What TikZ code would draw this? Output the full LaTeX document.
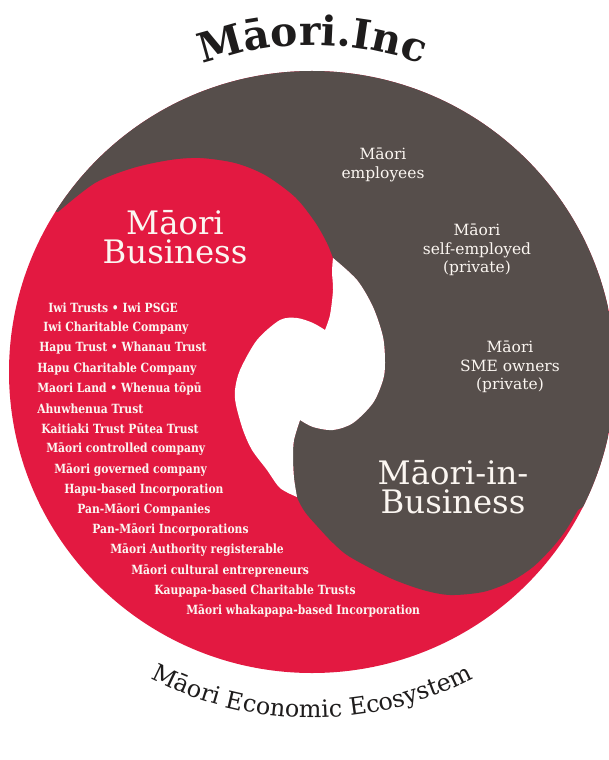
\documentclass[tikz,border=0pt]{standalone}
\usepackage{fontspec}
\setmainfont{DejaVu Serif}
\newfontfamily\slabcond{DejaVu Serif}[FakeStretch=0.85]
\usepackage{xcolor}
\usepackage{tikz}
\usetikzlibrary{decorations.text}
\definecolor{mred}{HTML}{E31941}
\definecolor{mgrey}{HTML}{564E4B}
\definecolor{mcream}{HTML}{FBF6F1}
\definecolor{mink}{HTML}{1E1C1C}
\tikzstyle{biglabel} = [text=mcream, align=center, font=\fontsize{23}{21}\selectfont]
\tikzstyle{smalllabel} = [text=mcream, align=center, font=\fontsize{11}{13}\selectfont]
\tikzstyle{listitem} = [text=mcream, anchor=west, inner sep=0pt, font=\slabcond\bfseries\fontsize{9}{10}\selectfont]

\begin{document}
\begin{tikzpicture}[x=0.025cm, y=0.025cm]
    % frame
    \useasboundingbox (0,0) rectangle (609,-760);
    \fill[white] (0,0) rectangle (609,-760);
    \clip (0,0) rectangle (609,-760);
    % disc
    \begin{scope}
        \fill[mred] (312,-372) ellipse [x radius=303, y radius=301];
        \clip (312,-372) ellipse [x radius=303, y radius=301];
        % dark side
        \fill[mgrey] plot[smooth] coordinates {(58,-212) (95,-183) (133,-168) (170,-160) (200,-158)
                (235,-163) (265,-175) (295,-197) (315,-222) (327,-243) (333,-258)}
            -- plot[smooth] coordinates {(333,-258) (357,-280) (373,-307) (383,-337) (385,-363)
                (383,-380) (373,-403) (353,-423) (333,-430) (313,-427) (300,-420)}
            -- plot[smooth] coordinates {(300,-420) (294,-440) (293,-457) (294,-478) (297,-497)
                (305,-512) (317,-526) (333,-543) (350,-557) (390,-578) (423,-590) (450,-595)
                (483,-592) (510,-582) (533,-567) (552,-548) (566,-530) (578,-510)}
            -- (640,-470) -- (640,10) -- (-10,10) -- (-10,-200) -- cycle;
        % hole
        \fill[white] plot[smooth] coordinates {(333,-258) (357,-280) (373,-307) (383,-337) (385,-363)
                (383,-380) (373,-403) (353,-423) (333,-430) (313,-427) (300,-420)}
            -- plot[smooth] coordinates {(300,-420) (294,-440) (293,-457) (294,-478) (297,-497)}
            -- plot[smooth] coordinates {(297,-497) (280,-488) (267,-470) (252,-450) (243,-430)
                (236,-405) (235,-390) (240,-370) (257,-340) (280,-320) (297,-318) (313,-323) (325,-330)}
            -- plot[smooth] coordinates {(325,-330) (330,-315) (333,-290) (332,-272) (333,-258)}
            -- cycle;
    \end{scope}
    % curved titles
    \path[decorate, decoration={text along path, text align=center, text color=mink,
        text={|\bfseries\fontsize{29}{29}\selectfont|Māori.Inc}}]
        (312,-371) ++(125:326) arc [start angle=125, end angle=55, radius=326];
    \path[decorate, decoration={text along path, text align=center, text color=mink,
        text={|\fontsize{17}{17}\selectfont|Māori Economic Ecosystem}}]
        (312,-371) ++(235:347) arc [start angle=235, end angle=305, radius=347];
    % labels
    \node[biglabel] (biz) at (175,-237) {Māori\\Business};
    \node[biglabel] (inbiz) at (453,-487) {Māori-in-\\Business};
    \node[smalllabel] (employees) at (383,-165) {Māori\\employees};
    \node[smalllabel] (selfemp) at (477,-250) {Māori\\self-employed\\(private)};
    \node[smalllabel] (sme) at (510,-367) {Māori\\SME owners\\(private)};
    % entity list
    \foreach \x/\t [count=\i from 0] in {48/Iwi Trusts • Iwi PSGE, 43/Iwi Charitable Company,
        39/Hapu Trust • Whanau Trust, 37/Hapu Charitable Company, 37/Maori Land • Whenua tōpū,
        37/Ahuwhenua Trust, 41/Kaitiaki Trust Pūtea Trust, 46/Māori controlled company,
        54/Māori governed company, 64/Hapu-based Incorporation, 77/Pan-Māori Companies,
        92/Pan-Māori Incorporations, 110/Māori Authority registerable,
        131/Māori cultural entrepreneurs, 154/Kaupapa-based Charitable Trusts,
        186/Māori whakapapa-based Incorporation}
        \node[listitem] (item\i) at (\x,-308-20.2*\i) {\t};
\end{tikzpicture}
\end{document}
